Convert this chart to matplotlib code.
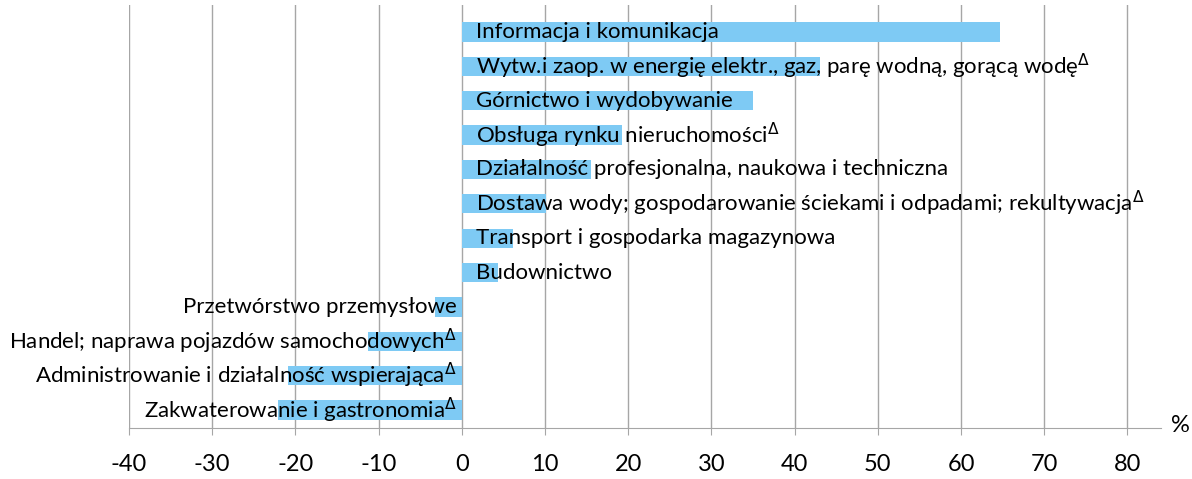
import matplotlib.pyplot as plt

plt.rcParams['font.family'] = ['Lato', 'DejaVu Sans']
plt.rcParams['mathtext.fontset'] = 'dejavusans'

# sectors, top to bottom
labels = [
    "Informacja i komunikacja",
    "Wytw.i zaop. w energię elektr., gaz, parę wodną, gorącą wodę$^{\\Delta}$",
    "Górnictwo i wydobywanie",
    "Obsługa rynku nieruchomości$^{\\Delta}$",
    "Działalność profesjonalna, naukowa i techniczna",
    "Dostawa wody; gospodarowanie ściekami i odpadami; rekultywacja$^{\\Delta}$",
    "Transport i gospodarka magazynowa",
    "Budownictwo",
    "Przetwórstwo przemysłowe",
    "Handel; naprawa pojazdów samochodowych$^{\\Delta}$",
    "Administrowanie i działalność wspierająca$^{\\Delta}$",
    "Zakwaterowanie i gastronomia$^{\\Delta}$",
]
values = [64.7, 43.1, 35.0, 19.3, 15.5, 10.1, 6.1, 4.3, -3.2, -11.3, -20.9, -22.1]
xticks = [-40, -30, -20, -10, 0, 10, 20, 30, 40, 50, 60, 70, 80]

fig = plt.figure(figsize=(11.92, 4.79), dpi=100)
ax = fig.add_axes([0.1082, 51 / 479, 0.9738 - 0.1082, 0.99 - 51 / 479])

pos = list(range(len(labels)))
ax.barh(pos, values, height=0.56, color='#7ecaf4', zorder=2)

for p, v, lab in zip(pos, values, labels):
    if v >= 0:
        ax.text(1.7, p, lab, ha='left', va='center', fontsize=16, color='black', zorder=3)
    else:
        ax.text(-0.6, p, lab, ha='right', va='center', fontsize=16, color='black', zorder=3)

ax.set_xlim(-40, 84)
ax.set_ylim(11.52, -0.79)
ax.set_xticks(xticks)
ax.set_xticklabels([str(t) for t in xticks], fontsize=17)
ax.set_yticks([])
ax.grid(axis='x', color='#a6a6a6', linewidth=1, zorder=0)
ax.set_axisbelow(True)

for s in ['top', 'right', 'left']:
    ax.spines[s].set_visible(False)
ax.spines['bottom'].set_color('#a6a6a6')
ax.tick_params(axis='x', direction='out', length=5, color='#a6a6a6', pad=14)

fig.text(1180 / 1192, 1 - 425 / 479, '%', ha='center', va='center', fontsize=17)

fig.savefig('out.png', dpi=100)
